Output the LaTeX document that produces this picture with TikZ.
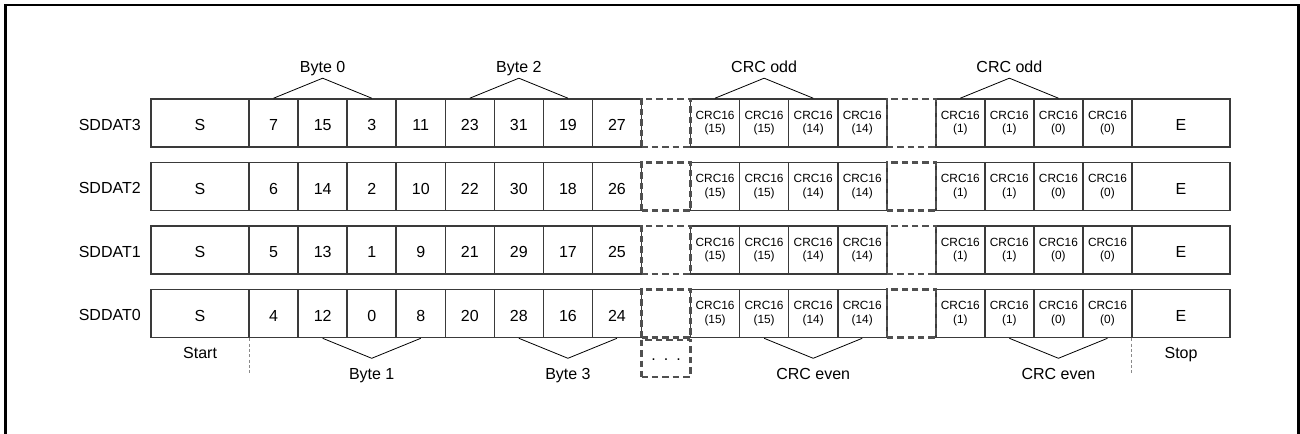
\documentclass[tikz,border=0pt]{standalone}
\usepackage{fontspec}
\setmainfont{Liberation Sans}
\definecolor{cellgray}{HTML}{3A3A3A}
\definecolor{dashgray}{HTML}{505050}
\definecolor{thingray}{HTML}{8A8A8A}
\begin{document}
\begin{tikzpicture}[x=0.75pt,y=-0.75pt,
  cell/.style={draw=cellgray, line width=1.2pt, inner sep=0pt, minimum height=36pt,
    font=\fontsize{12}{13}\selectfont, text height=11.4pt, text depth=0pt},
  narrow/.style={minimum width=36.79pt},
  wide/.style={minimum width=73.58pt},
  crc/.style={font=\fontsize{8.9}{10}\selectfont, align=center, text height=, text depth=},
  gapbox/.style={draw=dashgray, line width=1.6pt, dash pattern=on 4.8pt off 3pt,
    inner sep=0pt, minimum width=36.79pt, minimum height=36pt},
  lab/.style={font=\fontsize{12}{13}\selectfont, inner sep=0pt},
  brace/.style={draw=black, line width=0.6pt},
  marker/.style={draw=thingray, line width=0.8pt, dash pattern=on 2.4pt off 1.6pt},
  frame/.style={draw=black, line width=1.7pt}]
\useasboundingbox (0,0) rectangle (1300,434);
\draw[frame] (5.5,450) -- (5.5,5) -- (1298.5,5) -- (1298.5,450);
\def\u{49.05}
\def\xo{151}
\foreach \r/\ty/\vals in {3/99/{7,15,3,11,23,31,19,27},2/162.5/{6,14,2,10,22,30,18,26},1/226/{5,13,1,9,21,29,17,25},0/289.5/{4,12,0,8,20,28,16,24}}{
  \pgfmathsetmacro\yc{\ty+24}
  \pgfmathsetmacro\yb{\ty+31.5}
  \node[lab, anchor=base east] (L\r) at (141,\yb) {SDDAT\r};
  \node[cell, wide] (c\r-0) at ({\xo+\u},\yc) {S};
  \foreach \v [count=\i from 2] in \vals {
    \node[cell, narrow] (c\r-\i) at ({\xo+(\i+0.5)*\u},\yc) {\v};
  }
  \foreach \k/\p in {11/15,12/15,13/14,14/14,16/1,17/1,18/0,19/0}{
    \node[cell, narrow, crc] (c\r-\k) at ({\xo+(\k+0.5)*\u},\yc) {CRC16\\(\p)};
  }
  \node[cell, wide] (c\r-20) at ({\xo+21*\u},\yc) {E};
  \node[gapbox] (g\r-10) at ({\xo+10.5*\u},\yc) {};
  \node[gapbox] (g\r-15) at ({\xo+15.5*\u},\yc) {};
}
% continuation box below
\node[gapbox, minimum height=27.75pt, anchor=north] (dots) at (g0-10.south) {};
\node[lab, anchor=base, font=\fontsize{12}{13}\selectfont] (dotstxt) at ([yshift=-2pt]dots.center) {.\hspace{6pt}.\hspace{6pt}.};
% top groups
\foreach \s/\t/\n in {2/Byte 0/b0,6/Byte 2/b2,11/CRC odd/co1,16/CRC odd/co2}{
  \pgfmathtruncatemacro\sa{\s+1}
  \pgfmathtruncatemacro\sb{\s+2}
  \path (c3-\sa.north) ++(0,-20) coordinate (ap-\n);
  \draw[brace] (c3-\s.north) -- (ap-\n) -- (c3-\sb.north);
  \path (ap-\n) ++(0,-6) node[lab, anchor=base] (t-\n) {\t};
}
% bottom groups
\foreach \s/\t/\n in {3/Byte 1/b1,7/Byte 3/b3,12/CRC even/ce1,17/CRC even/ce2}{
  \pgfmathtruncatemacro\sa{\s+1}
  \pgfmathtruncatemacro\sb{\s+2}
  \path (c0-\sa.south) ++(0,20) coordinate (ap-\n);
  \draw[brace] (c0-\s.south) -- (ap-\n) -- (c0-\sb.south);
  \path (ap-\n) ++(0,21) node[lab, anchor=base] (t-\n) {\t};
}
% start / stop markers
\coordinate (mstart) at ([yshift=-27.75pt]c0-0.south east);
\coordinate (mstop) at ([yshift=-27.75pt]c0-20.south west);
\draw[marker] (c0-0.south east) -- (mstart);
\draw[marker] (c0-20.south west) -- (mstop);
\path (c0-0.south) ++(0,20) node[lab, anchor=base] (tstart) {Start};
\path (c0-20.south) ++(0,20) node[lab, anchor=base] (tstop) {Stop};
\end{tikzpicture}
\end{document}
